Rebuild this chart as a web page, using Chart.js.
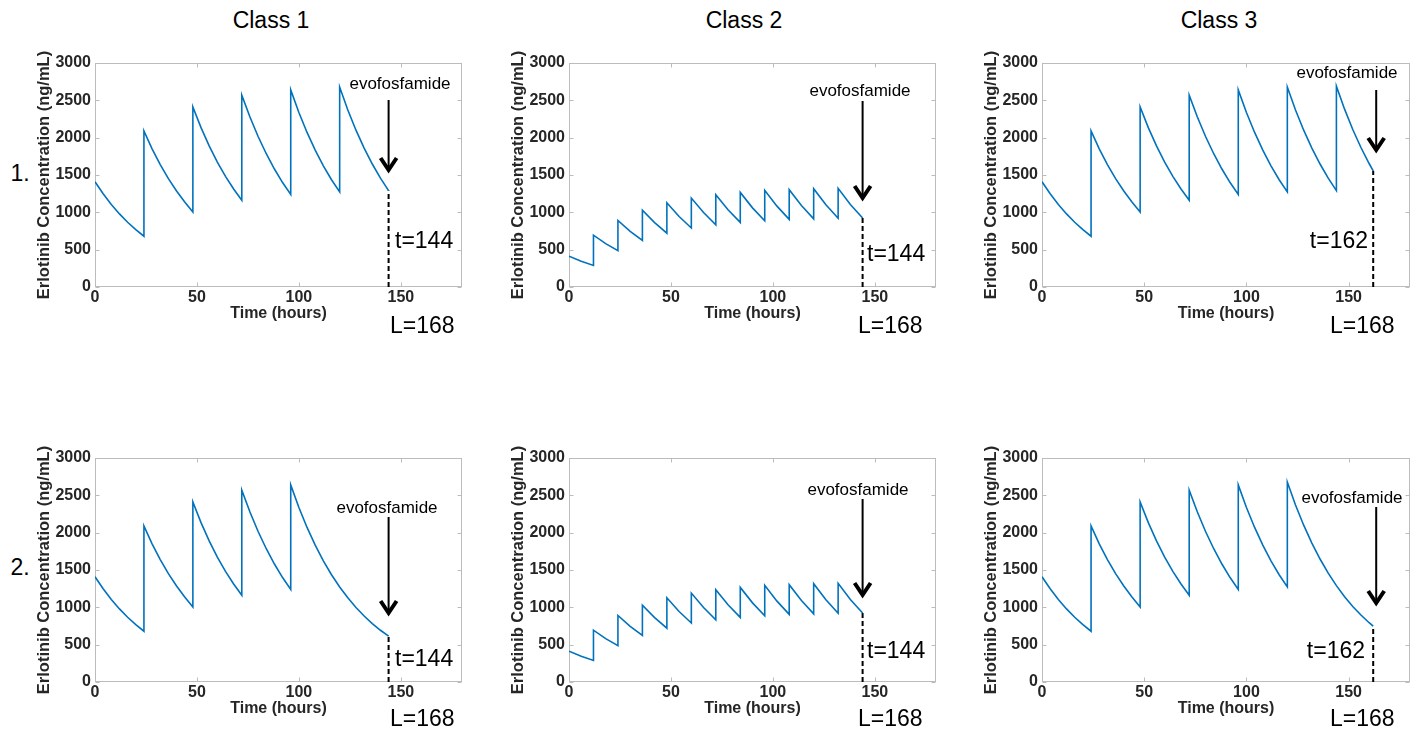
<!DOCTYPE html>
<html>
<head>
<meta charset="utf-8">
<script src="https://cdn.jsdelivr.net/npm/chart.js@4.4.1/dist/chart.umd.min.js"></script>
<style>
  html, body { margin: 0; padding: 0; background: #ffffff; }
  body { width: 1416px; height: 732px; position: relative; overflow: hidden;
         font-family: "Liberation Sans", Arial, Helvetica, sans-serif; }
  canvas { position: absolute; }
  .lbl { position: absolute; transform: translate(-50%, -50%); white-space: nowrap; color: #000; }
</style>
</head>
<body>
<div class="lbl" style="left:271px; top:20px; font-size:23px;">Class 1</div>
<div class="lbl" style="left:744px; top:20px; font-size:23px;">Class 2</div>
<div class="lbl" style="left:1219px; top:20px; font-size:23px;">Class 3</div>
<div class="lbl" style="left:20px; top:173px; font-size:23px;">1.</div>
<div class="lbl" style="left:20px; top:567px; font-size:23px;">2.</div>

<canvas id="p11" width="10" height="10"></canvas>
<canvas id="p12" width="10" height="10"></canvas>
<canvas id="p13" width="10" height="10"></canvas>
<canvas id="p21" width="10" height="10"></canvas>
<canvas id="p22" width="10" height="10"></canvas>
<canvas id="p23" width="10" height="10"></canvas>

<script>
// ---------------- DATA ----------------
const xTicks = [0, 50, 100, 150];
const yTicks = [0, 500, 1000, 1500, 2000, 2500, 3000];
const xAxisMax = 180;
const yAxisMax = 3000;

// Class 1, scenario 1 (dosing every 24 h, evofosfamide at t=144)
const class1Row1Time = [0,4,8,12,16,20,24, 24,28,32,36,40,44,48, 48,52,56,60,64,68,72,
                        72,76,80,84,88,92,96, 96,100,104,108,112,116,120, 120,124,128,132,136,140,144];
const class1Row1Conc = [1410,1249,1106,979,867,768,680, 2090,1851,1639,1451,1285,1138,1005,
                        2410,2134,1890,1673,1482,1312,1162, 2570,2276,2015,1785,1580,1399,1239,
                        2640,2338,2070,1833,1623,1437,1273, 2678,2371,2100,1860,1647,1458,1291];

// Class 2, dosing every 12 h (same in both scenarios), evofosfamide at t=144
const class2Time = [0,6,12, 12,18,24, 24,30,36, 36,42,48, 48,54,60, 60,66,72, 72,78,84,
                    84,90,96, 96,102,108, 108,114,120, 120,126,132, 132,138,144];
const class2Conc = [412,345,288, 694,581,486, 891,746,624, 1030,862,721, 1128,944,790,
                    1191,997,834, 1236,1035,865, 1267,1060,887, 1294,1083,906, 1303,1091,912,
                    1316,1101,921, 1321,1106,925];

// Class 3, scenario 1 (dosing every 24 h up to 144, evofosfamide at t=162)
const class3Row1Time = [0,4,8,12,16,20,24, 24,28,32,36,40,44,48, 48,52,56,60,64,68,72,
                        72,76,80,84,88,92,96, 96,100,104,108,112,116,120, 120,124,128,132,136,140,144,
                        144,148,152,156,160,162];
const class3Row1Conc = [1410,1249,1106,979,867,768,680, 2090,1851,1639,1451,1285,1138,1005,
                        2410,2134,1890,1673,1482,1312,1162, 2570,2276,2015,1785,1580,1399,1239,
                        2640,2338,2070,1833,1623,1437,1273, 2678,2371,2100,1860,1647,1458,1291,
                        2690,2382,2109,1868,1654,1556];

// Class 1, scenario 2 (last dose at 96, evofosfamide at t=144)
const class1Row2Time = [0,4,8,12,16,20,24, 24,28,32,36,40,44,48, 48,52,56,60,64,68,72,
                        72,76,80,84,88,92,96, 96,100,104,108,112,116,120,124,128,132,136,140,144];
const class1Row2Conc = [1410,1249,1106,979,867,768,680, 2090,1851,1639,1451,1285,1138,1005,
                        2410,2134,1890,1673,1482,1312,1162, 2570,2276,2015,1785,1580,1399,1239,
                        2640,2338,2070,1833,1623,1437,1273,1127,998,884,783,693,614];

// Class 3, scenario 2 (last dose at 120, evofosfamide at t=162)
const class3Row2Time = [0,4,8,12,16,20,24, 24,28,32,36,40,44,48, 48,52,56,60,64,68,72,
                        72,76,80,84,88,92,96, 96,100,104,108,112,116,120,
                        120,124,128,132,136,140,144,148,152,156,160,162];
const class3Row2Conc = [1410,1249,1106,979,867,768,680, 2090,1851,1639,1451,1285,1138,1005,
                        2410,2134,1890,1673,1482,1312,1162, 2570,2276,2015,1785,1580,1399,1239,
                        2640,2338,2070,1833,1623,1437,1273,
                        2678,2371,2100,1860,1647,1458,1291,1143,1012,897,794,747];

const evoLabel = 'evofosfamide';
const lengthLabel = 'L=168';
const xTitle = 'Time (hours)';
const yTitle = 'Erlotinib Concentration (ng/mL)';

// ---------------- LAYOUT ----------------
const FONT = '"Liberation Sans", Arial, Helvetica, sans-serif';
const LINE_BLUE = '#0072BD';
const BOX_GREY = '#bcbcbc';
const TICK_TEXT = '#262626';

const panels = [
  { id:'p11', plot:{l:95,  t:63,  r:462}, time:class1Row1Time, conc:class1Row1Conc, tLabel:'t=144',
    evo:{x:400,  y:84},  arrow:{dx:0, y0:100, tip:172}, tPos:{x:395,  y:242, align:'left'}, lPos:{x:390,  y:327} },
  { id:'p12', plot:{l:569, t:63,  r:936}, time:class2Time, conc:class2Conc, tLabel:'t=144',
    evo:{x:860,  y:91},  arrow:{dx:0, y0:101, tip:200}, tPos:{x:867,  y:255, align:'left'}, lPos:{x:858,  y:327} },
  { id:'p13', plot:{l:1042,t:63,  r:1410}, time:class3Row1Time, conc:class3Row1Conc, tLabel:'t=162',
    evo:{x:1347, y:73},  arrow:{dx:3, y0:90,  tip:152}, tPos:{x:1368, y:242, align:'right'}, lPos:{x:1330, y:327} },
  { id:'p21', plot:{l:95,  t:458, r:462}, time:class1Row2Time, conc:class1Row2Conc, tLabel:'t=144',
    evo:{x:387,  y:508}, arrow:{dx:0, y0:517, tip:615}, tPos:{x:395,  y:660, align:'left'}, lPos:{x:390,  y:720} },
  { id:'p22', plot:{l:569, t:458, r:936}, time:class2Time, conc:class2Conc, tLabel:'t=144',
    evo:{x:858,  y:490}, arrow:{dx:0, y0:499, tip:597}, tPos:{x:867,  y:652, align:'left'}, lPos:{x:858,  y:720} },
  { id:'p23', plot:{l:1042,t:458, r:1410}, time:class3Row2Time, conc:class3Row2Conc, tLabel:'t=162',
    evo:{x:1352, y:498}, arrow:{dx:3, y0:507, tip:605}, tPos:{x:1365, y:652, align:'right'}, lPos:{x:1330, y:720} }
];

const PLOT_H = 224;
const CANVAS_H = 324;
const PAD_LEFT = 35, Y_AXIS_W = 60, PAD_TOP = 40, PAD_RIGHT = 6, X_AXIS_H = 37;

function decorPlugin(p, offX, offY) {
  return {
    id: 'decor_' + p.id,
    beforeDatasetsDraw(chart) {
      const ctx = chart.ctx, a = chart.chartArea;
      const xs = chart.scales.x, ys = chart.scales.y;
      ctx.save();
      ctx.strokeStyle = BOX_GREY;
      ctx.lineWidth = 1;
      const L = Math.round(a.left) + 0.5, R = Math.round(a.right) - 0.5;
      const T = Math.round(a.top) + 0.5, B = Math.round(a.bottom) - 0.5;
      ctx.strokeRect(L, T, R - L, B - T);
      ctx.beginPath();
      xTicks.forEach(v => {
        const px = Math.round(xs.getPixelForValue(v)) + 0.5;
        ctx.moveTo(px, B); ctx.lineTo(px, B - 4);
        ctx.moveTo(px, T); ctx.lineTo(px, T + 4);
      });
      yTicks.forEach(v => {
        const py = Math.round(ys.getPixelForValue(v)) + 0.5;
        ctx.moveTo(L, py); ctx.lineTo(L + 4, py);
        ctx.moveTo(R, py); ctx.lineTo(R - 4, py);
      });
      ctx.stroke();
      ctx.restore();
    },
    afterDraw(chart) {
      const ctx = chart.ctx, a = chart.chartArea;
      const xs = chart.scales.x;
      ctx.save();
      // axis titles
      ctx.fillStyle = TICK_TEXT;
      ctx.font = 'bold 16px ' + FONT;
      ctx.textAlign = 'center';
      ctx.textBaseline = 'middle';
      ctx.fillText(xTitle, (a.left + a.right) / 2, a.bottom + 27);
      ctx.save();
      ctx.translate(a.left - 51, (a.top + a.bottom) / 2);
      ctx.rotate(-Math.PI / 2);
      ctx.font = 'bold 16.5px ' + FONT;
      ctx.fillText(yTitle, 0, 0);
      ctx.restore();

      // evofosfamide annotation
      ctx.fillStyle = '#000';
      ctx.font = '17px ' + FONT;
      ctx.textAlign = 'center';
      ctx.fillText(evoLabel, p.evo.x - offX, p.evo.y - offY);

      const tEnd = p.time[p.time.length - 1];
      const ax = xs.getPixelForValue(tEnd) + p.arrow.dx;
      const y0 = p.arrow.y0 - offY, tip = p.arrow.tip - offY;
      ctx.strokeStyle = '#000';
      ctx.lineWidth = 2;
      ctx.beginPath();
      ctx.moveTo(ax, y0); ctx.lineTo(ax, tip - 2);
      ctx.stroke();
      ctx.lineWidth = 4;
      ctx.lineJoin = 'miter';
      ctx.beginPath();
      ctx.moveTo(ax - 8, tip - 14); ctx.lineTo(ax, tip - 2); ctx.lineTo(ax + 8, tip - 14);
      ctx.stroke();

      // t= and L= labels
      ctx.font = '23px ' + FONT;
      ctx.textAlign = p.tPos.align;
      ctx.fillText(p.tLabel, p.tPos.x - offX, p.tPos.y - offY);
      ctx.textAlign = 'left';
      ctx.fillText(lengthLabel, p.lPos.x - offX, p.lPos.y - offY);
      ctx.restore();
    }
  };
}

Chart.defaults.font.family = FONT;

panels.forEach(p => {
  const cv = document.getElementById(p.id);
  const offX = p.plot.l - PAD_LEFT - Y_AXIS_W;
  const offY = p.plot.t - PAD_TOP;
  const w = p.plot.r - offX + PAD_RIGHT;
  cv.width = w; cv.height = CANVAS_H;
  cv.style.left = offX + 'px'; cv.style.top = offY + 'px';
  cv.style.width = w + 'px'; cv.style.height = CANVAS_H + 'px';

  const pts = p.time.map((t, i) => ({ x: t, y: p.conc[i] }));
  const tEnd = p.time[p.time.length - 1];
  const cEnd = p.conc[p.conc.length - 1];

  new Chart(cv, {
    type: 'line',
    data: {
      datasets: [
        { data: pts, borderColor: LINE_BLUE, borderWidth: 1.6, pointRadius: 0, tension: 0, fill: false },
        { data: [{ x: tEnd, y: 0 }, { x: tEnd, y: cEnd }], borderColor: '#000', borderWidth: 2,
          borderDash: [5, 3], pointRadius: 0, tension: 0, fill: false }
      ]
    },
    options: {
      responsive: false,
      animation: false,
      devicePixelRatio: 1,
      layout: { padding: { left: PAD_LEFT, top: PAD_TOP, right: PAD_RIGHT,
                           bottom: CANVAS_H - PAD_TOP - PLOT_H - X_AXIS_H } },
      plugins: { legend: { display: false }, tooltip: { enabled: false }, title: { display: false } },
      scales: {
        x: {
          type: 'linear', min: 0, max: xAxisMax,
          afterBuildTicks: s => { s.ticks = xTicks.map(v => ({ value: v })); },
          afterFit: s => { s.height = X_AXIS_H; },
          grid: { display: false, drawTicks: false, tickLength: 0 },
          border: { display: false },
          ticks: { padding: 1, color: TICK_TEXT, font: { size: 16, weight: 'bold' }, maxRotation: 0,
                   autoSkip: false, callback: v => String(v) }
        },
        y: {
          type: 'linear', min: 0, max: yAxisMax,
          afterBuildTicks: s => { s.ticks = yTicks.map(v => ({ value: v })); },
          afterFit: s => { s.width = Y_AXIS_W; },
          grid: { display: false, drawTicks: false, tickLength: 0 },
          border: { display: false },
          ticks: { padding: 4, color: TICK_TEXT, font: { size: 16, weight: 'bold' },
                   autoSkip: false, callback: v => String(v) }
        }
      }
    },
    plugins: [decorPlugin(p, offX, offY)]
  });
});
</script>
</body>
</html>
